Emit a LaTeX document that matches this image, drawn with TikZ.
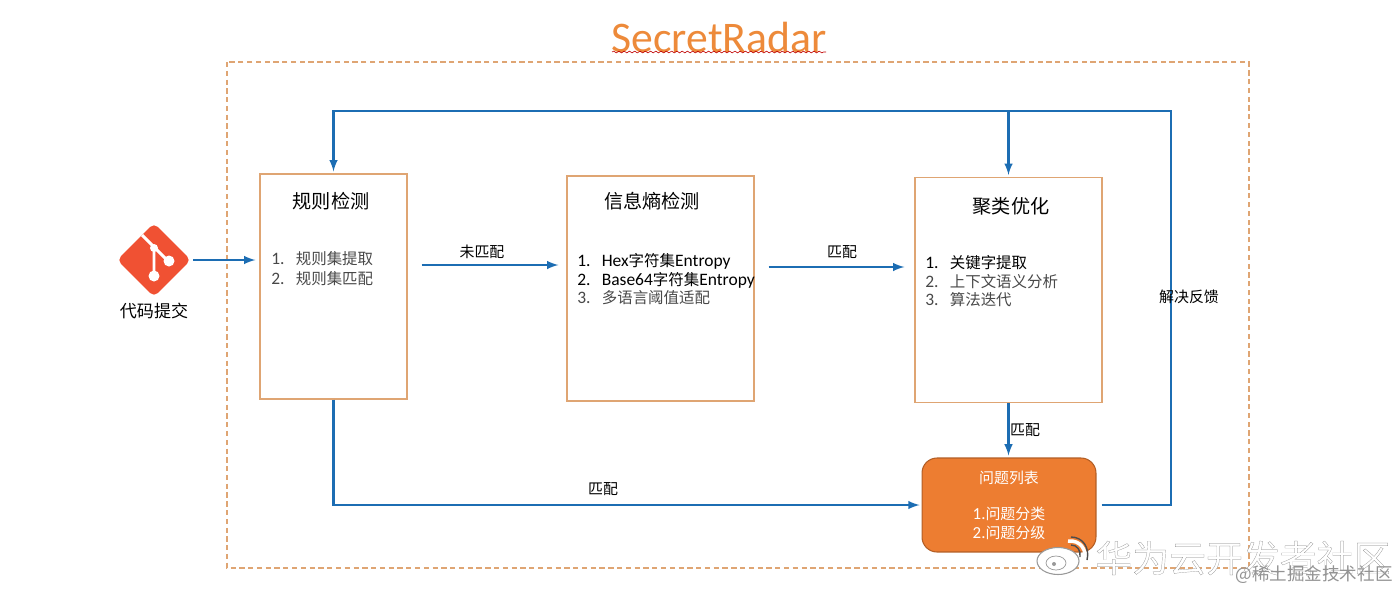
\documentclass[tikz,border=0pt]{standalone}
\usepackage{fontspec}
\setmainfont{Carlito}[Scale=1.13]
\newfontfamily\cjk{Noto Sans CJK SC}
\newfontfamily\markfont{Noto Sans CJK SC}[FakeBold=0.5]
\usetikzlibrary{arrows,positioning,shapes,shapes.geometric,decorations.pathmorphing}
\definecolor{flowblue}{HTML}{1C6DB3}
\definecolor{boxorange}{HTML}{DFA573}
\definecolor{titleorange}{HTML}{ED8A3A}
\definecolor{issueorange}{HTML}{ED7D31}
\definecolor{gitred}{HTML}{F05133}
\definecolor{itemgray}{HTML}{484848}
\newcommand{\numitem}[2]{\makebox[0.49cm][l]{#1.}#2}
\tikzset{
  stagebox/.style={draw=boxorange, line width=0.8pt, minimum width=3.74cm, minimum height=4.5cm, inner sep=0pt},
  stagehead/.style={font=\cjk\fontsize{10.9}{13}\selectfont, text=black},
  itemlist/.style={font=\fontsize{8.8}{10.6}\selectfont, align=left, anchor=north west, inner sep=0pt, text=itemgray},
  flowlabel/.style={font=\cjk\fontsize{8.5}{10}\selectfont, text=black, inner sep=0pt},
  flow/.style={->, draw=flowblue, line width=1.2pt}
}
\begin{document}
\begin{tikzpicture}[x=0.02cm, y=-0.02cm, >=latex]
  \useasboundingbox (0,0) rectangle (1400,592);

  \draw[boxorange, line width=1pt, dash pattern=on 3pt off 2pt] (227,62) rectangle (1249,568);
  \node[font=\fontsize{22}{24}\selectfont, text=titleorange, inner sep=0pt] (title) at (719,37) {SecretRadar};
  \draw[red!75!black, line width=0.35pt, decorate, decoration={snake, amplitude=0.5pt, segment length=3pt}] (612,52) -- (826,52);

  \node[diamond, fill=gitred, rounded corners=3pt, minimum size=1.48cm, inner sep=0pt] (git) at (154,260) {};
  \draw[white, line width=1.7pt] (142,235) -- (168,261) (154,247) -- (154,276);
  \fill[white] (154,276) circle (0.11cm) (169,261) circle (0.11cm) (154,248) circle (0.08cm);
  \node[flowlabel, font=\cjk\fontsize{9.7}{11}\selectfont, below=0.1cm of git] (gitlabel) {代码提交};

  \node[stagebox, minimum width=2.94cm] (rule) at (333.5,286.5) {};
  \node[stagebox] (entropy) at (660.5,288.5) {};
  \node[stagebox] (cluster) at (1008.5,290) {};
  \node[fill=issueorange, draw=issueorange!75!black, line width=0.6pt, rounded corners=0.3cm, minimum width=3.48cm, minimum height=1.88cm, inner sep=0pt, align=center, text=white, font=\fontsize{8.5}{10.4}\selectfont] (issues) at (1009,505)
    {{\cjk 问题列表}\\~\\1.{\cjk 问题分类}\\2.{\cjk 问题分级}};

  \node[stagehead] (rulehead) at (331,201) {规则检测};
  \node[stagehead] (entropyhead) at (652,201) {信息熵检测};
  \node[stagehead] (clusterhead) at (1011,206) {聚类优化};

  \node[itemlist, font=\fontsize{8.8}{11.3}\selectfont] (ruleitems) at (271,251) {\numitem{1}{\cjk 规则集提取}\\\numitem{2}{\cjk 规则集匹配}};
  \node[itemlist] (entropyitems) at (577,253) {\textcolor{black}{\numitem{1}{Hex{\cjk 字符集}Entropy}}\\\textcolor{black}{\numitem{2}{Base64{\cjk 字符集}Entropy}}\\\numitem{3}{\cjk 多语言阈值适配}};
  \node[itemlist] (clusteritems) at (925,255) {\textcolor{black}{\numitem{1}{\cjk 关键字提取}}\\\numitem{2}{\cjk 上下文语义分析}\\\numitem{3}{\cjk 算法迭代}};

  \coordinate (turnbottom) at (1171,505);
  \coordinate (turntop) at (1171,111);

  \draw[flow, shorten <=0.04cm, shorten >=0.08cm] (git.east) -- (git.east -| rule.west);
  \draw[flow, shorten <=0.28cm, shorten >=0.16cm] (rule.east |- 0,265) -- (entropy.west |- 0,265);
  \draw[flow, shorten <=0.28cm, shorten >=0.2cm] (entropy.east |- 0,267) -- (cluster.west |- 0,267);
  \draw[flow, shorten >=0.04cm] (cluster.south) -- (cluster.south |- issues.north);
  \draw[flow, shorten >=0.04cm] (rule.south) |- (issues.west);
  \draw[flow, shorten <=0.1cm, shorten >=0.04cm] (issues.east) -- (turnbottom) -- (turntop) -- (rule.north |- turntop) -- (rule.north);
  \draw[flow, shorten >=0.04cm] (cluster.north |- turntop) -- (cluster.north);

  \node[flowlabel] (nomatch) at (482,252) {未匹配};
  \node[flowlabel] (matcha) at (842,252) {匹配};
  \node[flowlabel] (matchb) at (1025,430) {匹配};
  \node[flowlabel] (matchc) at (603,489) {匹配};
  \node[flowlabel] (feedback) at (1189,297) {解决反馈};

  \draw[gray!80, fill=white, line width=0.6pt] (1058,561) ellipse (0.42cm and 0.27cm);
  \draw[gray!80, line width=0.4pt] (1056,563) ellipse (0.2cm and 0.14cm);
  \fill[gray!80] (1054,564) circle (0.04cm);
  \draw[white, line width=2pt] (1068,541) .. controls (1081,540) and (1087,550) .. (1085,562);
  \draw[black!70, line width=0.8pt] (1071,537) .. controls (1083,537) and (1090,548) .. (1087,560);
  \draw[black!70, line width=0.8pt] (1071,545) .. controls (1077,545) and (1081,550) .. (1080,557);

  \node[font=\markfont\fontsize{21}{23}\selectfont, text=white, inner sep=0pt, anchor=west] (marktext) at (1095,558) {\special{pdf:code 0.5 0.5 0.5 RG}华为云开发者社区};
  \node[font=\cjk\fontsize{10}{12}\selectfont, text=gray!85, inner sep=0pt, anchor=east] (marksite) at (1393,575) {@稀土掘金技术社区};
\end{tikzpicture}
\end{document}
